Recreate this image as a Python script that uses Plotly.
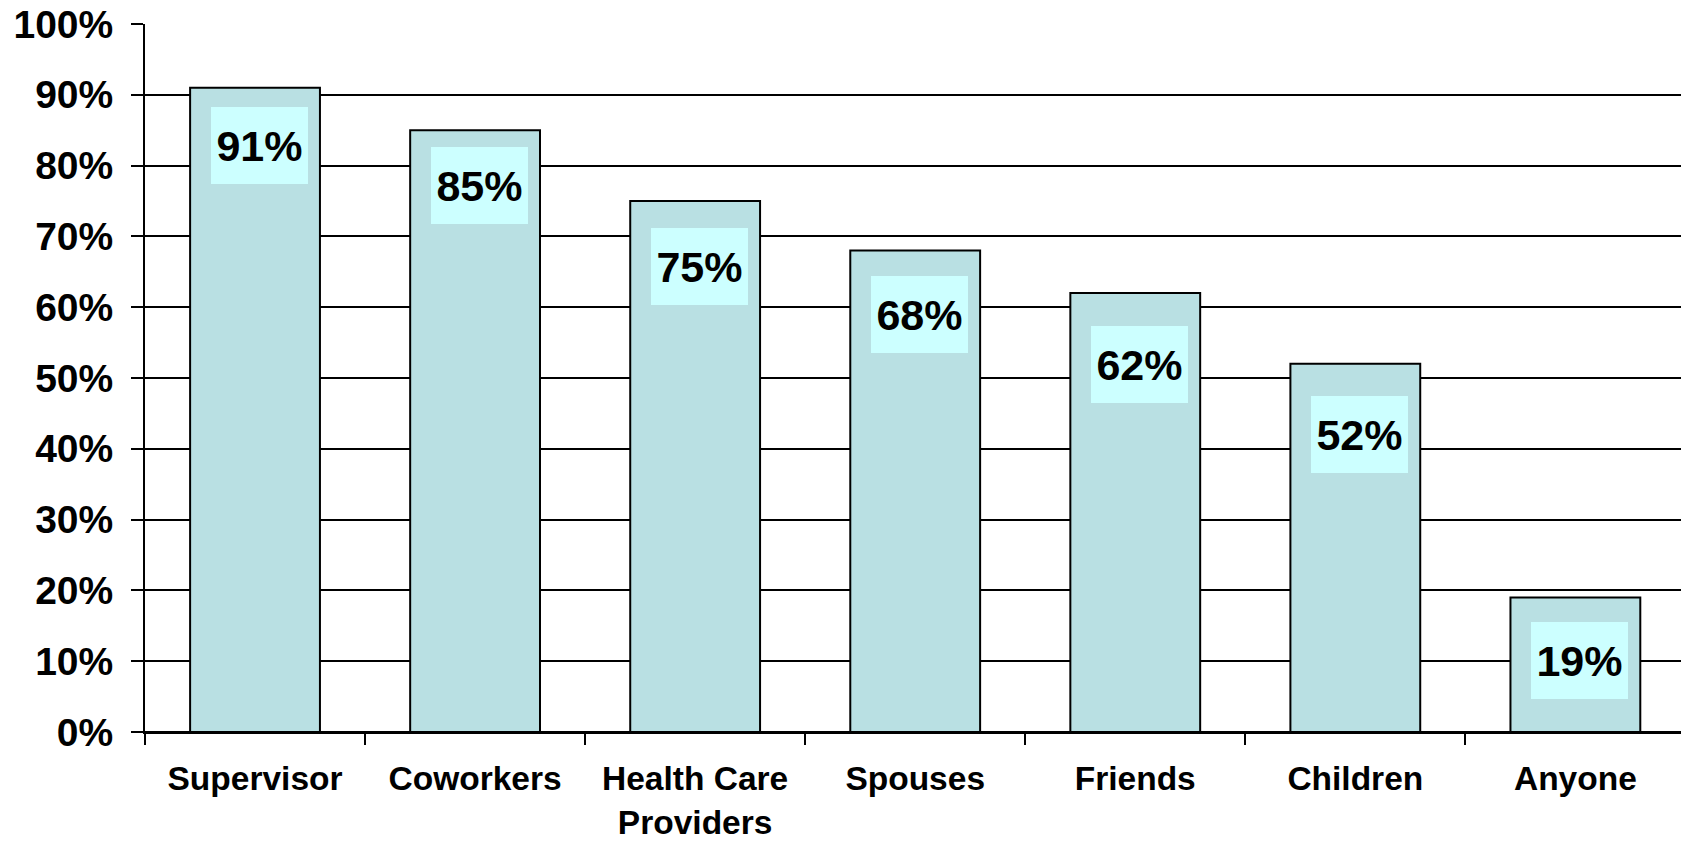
import plotly.graph_objects as go

categories = ["Supervisor", "Coworkers", "Health Care<br>Providers", "Spouses",
              "Friends", "Children", "Anyone"]
values = [0.91, 0.85, 0.75, 0.68, 0.62, 0.52, 0.19]
label_texts = ["91%", "85%", "75%", "68%", "62%", "52%", "19%"]
# pixel distance from bar top to label-box centre (as placed in the original)
label_dy = [58, 55, 65, 64, 71, 71, 63]
y_ticks = [i / 10 for i in range(11)]
y_tick_text = [f"{i*10}%" for i in range(11)]

FONT = "Liberation Sans, Arial, Helvetica, sans-serif"

fig = go.Figure()
fig.add_trace(go.Bar(
    x=categories, y=values, width=0.59,
    marker=dict(color="#B9E0E3", line=dict(color="black", width=2)),
    hoverinfo="skip", showlegend=False,
))

for c, v, t, dy in zip(categories, values, label_texts, label_dy):
    fig.add_annotation(
        x=c, y=v, xref="x", yref="y", text=f"<b>{t}</b>", showarrow=False,
        xanchor="center", yanchor="middle", xshift=4, yshift=-dy,
        width=97, height=77, bgcolor="#CCFFFF", borderpad=0, borderwidth=0,
        font=dict(family=FONT, size=43, color="black"),
    )

fig.update_layout(
    width=1681, height=841,
    margin=dict(l=145, r=0, t=24, b=109, autoexpand=False),
    plot_bgcolor="white", paper_bgcolor="white",
    bargap=0.41,
    font=dict(family=FONT, color="black"),
    xaxis=dict(
        type="category", range=[-0.5, 6.48], automargin=False,
        showgrid=False, showline=True, linecolor="black", linewidth=2,
        ticks="outside", tickson="boundaries", ticklen=11, tickwidth=2, tickcolor="black",
        tickfont=dict(family=FONT, size=33.5, color="black"),
        ticklabelstandoff=16,
        tickvals=categories, ticktext=[f"<b>{c}</b>" for c in categories],
    ),
    yaxis=dict(
        range=[0, 1], tickvals=y_ticks, ticktext=[f"<b>{t}</b>" for t in y_tick_text],
        automargin=False,
        showgrid=True, gridcolor="black", gridwidth=2,
        zeroline=True, zerolinecolor="black", zerolinewidth=2,
        showline=True, linecolor="black", linewidth=2,
        ticks="outside", ticklen=12, tickwidth=2, tickcolor="black",
        tickfont=dict(family=FONT, size=39, color="black"),
        ticklabelstandoff=10,
    ),
)

fig.write_html("out.html")
